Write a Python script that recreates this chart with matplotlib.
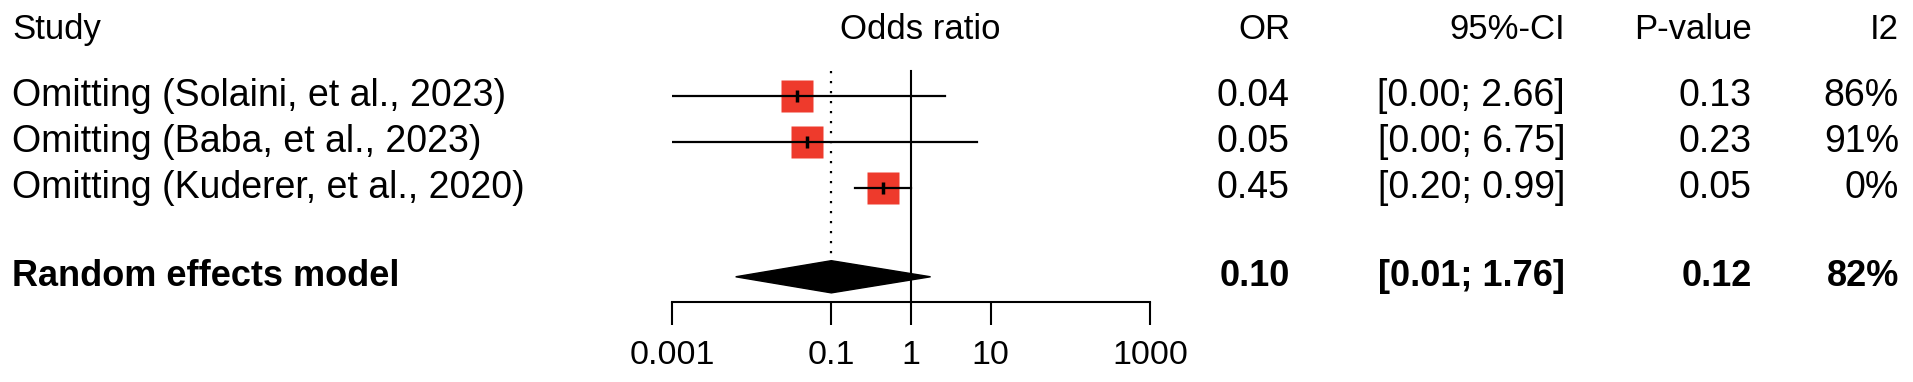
import numpy as np
import matplotlib
matplotlib.use('Agg')
import matplotlib.pyplot as plt

# 数据
studies = ['Omitting (Solaini, et al., 2023)',
           'Omitting (Baba, et al., 2023)',
           'Omitting (Kuderer, et al., 2020)']
or_est = [0.037, 0.049, 0.45]
ci_low = [0.0005, 0.00037, 0.20]
ci_high = [2.66, 6.75, 0.99]
p_vals = [0.13, 0.23, 0.05]
i2 = [86, 91, 0]

re_label = 'Random effects model'
re_est = 0.10
re_low = 0.0063
re_high = 1.76
re_p = 0.12
re_i2 = 82

ticks = [0.001, 0.1, 1, 10, 1000]
tick_labels = ['0.001', '0.1', '1', '10', '1000']

plt.rcParams['font.family'] = ['Liberation Sans', 'DejaVu Sans']
fs_head = 25
fs_body = 27
fs_bold = 26
fs_tick = 24.5
W, H = 1913, 382

fig = plt.figure(figsize=(W / 100, H / 100), dpi=100)
fig.patch.set_facecolor('w')

# 行位置（像素 -> 行号）
row0, dy = 96, 46
ylim = (1 + (H - row0) / dy, 1 - row0 / dy)
rows = np.arange(1, len(studies) + 1)
re_row = 4.93
head_row = -0.45
axis_row = 5.48

# 文字层
tx = fig.add_axes([0, 0, 1, 1])
tx.set_xlim(0, W)
tx.set_ylim(*ylim)
tx.axis('off')

# 森林图层
x0, x1 = 672, 1150
fx = fig.add_axes([x0 / W, 0, (x1 - x0) / W, 1])
fx.set_xscale('log')
fx.set_xlim(0.001, 1000)
fx.set_ylim(*ylim)
fx.patch.set_alpha(0)
for s in ['top', 'left', 'right']:
    fx.spines[s].set_visible(False)
fx.spines['bottom'].set_position(('data', axis_row))
fx.spines['bottom'].set_bounds(0.001, 1000)
fx.spines['bottom'].set_linewidth(1.5)
fx.set_yticks([])
fx.set_xticks(ticks)
fx.set_xticklabels(tick_labels)
fx.minorticks_off()
fx.tick_params(axis='x', direction='out', length=16.5, width=1.5,
               labelsize=fs_tick, pad=11)

# 参考线
fx.plot([1, 1], [0.45, axis_row], color='k', lw=1.5, zorder=1)
fx.plot([re_est, re_est], [0.45, re_row - 0.35], color='k', lw=1.6,
        ls=(0, (1, 3.5)), zorder=1)

# 各研究
red = '#ee3a2c'
fx.plot(or_est, rows, ls='none', marker='s', ms=23, color=red, mec='none', zorder=2)
for r, lo, hi in zip(rows, ci_low, ci_high):
    fx.plot([lo, hi], [r, r], color='k', lw=1.6, zorder=3)
fx.plot(or_est, rows, ls='none', marker='|', ms=9, mew=2.5, color='k', zorder=4)

# 合并效应菱形
fx.fill([re_low, re_est, re_high, re_est],
        [re_row, re_row - 0.35, re_row, re_row + 0.35], color='k', zorder=3)

# 标题行
tx.text(12, head_row, 'Study', fontsize=fs_head, ha='left', va='center')
tx.text(920, head_row, 'Odds ratio', fontsize=fs_head, ha='center', va='center')
col_x = [1290, 1565, 1752, 1899]
heads = ['OR', '95%-CI', 'P-value', 'I2']
for x, h in zip(col_x, heads):
    tx.text(x, head_row, h, fontsize=fs_head, ha='right', va='center')

# 研究行
for r, name, o, lo, hi, p, q in zip(rows, studies, or_est, ci_low, ci_high, p_vals, i2):
    vals = [f'{o:.2f}', f'[{lo:.2f}; {hi:.2f}]', f'{p:.2f}', f'{q}%']
    tx.text(12, r, name, fontsize=fs_body, ha='left', va='center')
    for x, v in zip(col_x, vals):
        tx.text(x, r, v, fontsize=fs_body, ha='right', va='center')

# 合并效应行
vals = [f'{re_est:.2f}', f'[{re_low:.2f}; {re_high:.2f}]', f'{re_p:.2f}', f'{re_i2}%']
tx.text(12, re_row, re_label, fontsize=fs_bold, ha='left', va='center', fontweight='bold')
for x, v in zip(col_x, vals):
    tx.text(x, re_row, v, fontsize=fs_bold, ha='right', va='center', fontweight='bold')

fig.savefig('out.png', dpi=100)
